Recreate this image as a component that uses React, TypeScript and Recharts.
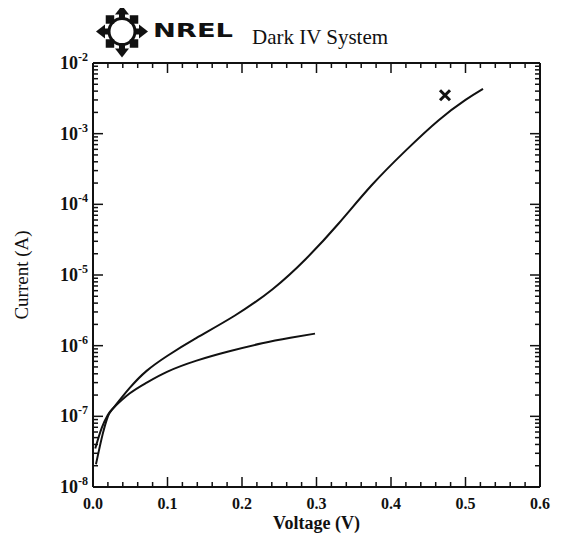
import { ComposedChart, Line, Scatter, XAxis, YAxis } from 'recharts';

// forward curve (goes up to ~4e-3 A)
const upperVolts = [0.004, 0.013, 0.02, 0.027, 0.049, 0.072, 0.1, 0.139, 0.19, 0.241, 0.286, 0.33, 0.374, 0.42, 0.464, 0.5, 0.5235];
const upperAmps = [2.1e-8, 5.6e-8, 1.0e-7, 1.3e-7, 2.5e-7, 4.4e-7, 7.2e-7, 1.29e-6, 2.65e-6, 6.3e-6, 1.7e-5, 5.4e-5, 1.86e-4, 5.8e-4, 1.55e-3, 3.0e-3, 4.3e-3];

// second sweep, stops at 0.3 V
const lowerVolts = [0.003, 0.012, 0.02, 0.027, 0.049, 0.072, 0.1, 0.139, 0.183, 0.227, 0.265, 0.298];
const lowerAmps = [3.5e-8, 7.0e-8, 1.05e-7, 1.3e-7, 2.1e-7, 3.0e-7, 4.3e-7, 6.15e-7, 8.35e-7, 1.08e-6, 1.29e-6, 1.48e-6];

const markVolts = [0.4725];
const markAmps = [3.5e-3];

const xMajor = [0, 0.1, 0.2, 0.3, 0.4, 0.5, 0.6];
const yMajor = [1e-8, 1e-7, 1e-6, 1e-5, 1e-4, 1e-3, 1e-2];
const yExponents = ['-8', '-7', '-6', '-5', '-4', '-3', '-2'];
const minorMultipliers = [2, 3, 4, 5, 6, 7, 8, 9];

const xTicks: number[] = [];
for (let i = 0; i <= 30; i++) xTicks.push(Math.round(i * 2) / 100);
const yTicks = yMajor.flatMap((d, i) =>
  i === yMajor.length - 1 ? [d] : [d, ...minorMultipliers.map((m) => m * d)]
);

const upperData = upperVolts.map((v, i) => ({ v, i: upperAmps[i] }));
const lowerData = lowerVolts.map((v, i) => ({ v, i: lowerAmps[i] }));
const markData = markVolts.map((v, i) => ({ v, i: markAmps[i] }));

const FONT = '"Liberation Serif", "Times New Roman", serif';
const INK = '#111';

const majorYIndex = (v: number) => yMajor.findIndex((d) => Math.abs(v / d - 1) < 1e-6);
const isMajorX = (v: number) => xMajor.some((m) => Math.abs(v - m) < 1e-6);

function LeftTick({ x, y, payload }: any) {
  const idx = majorYIndex(payload.value);
  const major = idx >= 0;
  return (
    <g>
      <line x1={x} y1={y} x2={x + (major ? 10 : 5)} y2={y} stroke={INK} strokeWidth={1.5} />
      {major && (
        <text x={x - 5} y={y + 6} textAnchor="end" fontFamily={FONT} fontWeight="bold" fontSize={18} fill={INK}>
          10<tspan dy={-8} fontSize={12}>{yExponents[idx]}</tspan>
        </text>
      )}
    </g>
  );
}

function RightTick({ x, y, payload }: any) {
  const major = majorYIndex(payload.value) >= 0;
  return <line x1={x} y1={y} x2={x - (major ? 10 : 5)} y2={y} stroke={INK} strokeWidth={1.5} />;
}

function BottomTick({ x, y, payload }: any) {
  const major = isMajorX(payload.value);
  return (
    <g>
      <line x1={x} y1={y} x2={x} y2={y - (major ? 10 : 5)} stroke={INK} strokeWidth={1.5} />
      {major && (
        <text x={x} y={y + 22} textAnchor="middle" fontFamily={FONT} fontWeight="bold" fontSize={16} fill={INK}>
          {payload.value.toFixed(1)}
        </text>
      )}
    </g>
  );
}

function TopTick({ x, y, payload }: any) {
  const major = isMajorX(payload.value);
  return <line x1={x} y1={y} x2={x} y2={y + (major ? 10 : 5)} stroke={INK} strokeWidth={1.5} />;
}

function XTitle({ viewBox }: any) {
  const { x = 85, y = 479, width = 447 } = viewBox || {};
  return (
    <text x={x + width / 2} y={y + 42} textAnchor="middle" fontFamily={FONT} fontWeight="bold" fontSize={18} fill={INK}>
      Voltage (V)
    </text>
  );
}

function YTitle({ viewBox }: any) {
  const { y = 55, height = 424 } = viewBox || {};
  const cy = y + height / 2;
  return (
    <text x={20} y={cy} transform={`rotate(-90, 20, ${cy})`} textAnchor="middle" fontFamily={FONT} fontSize={19} fill={INK}>
      Current (A)
    </text>
  );
}

function Cross({ cx, cy }: any) {
  const r = 5;
  return (
    <g stroke={INK} strokeWidth={3}>
      <line x1={cx - r} y1={cy - r} x2={cx + r} y2={cy + r} />
      <line x1={cx - r} y1={cy + r} x2={cx + r} y2={cy - r} />
    </g>
  );
}

function Logo() {
  const cx = 122;
  const cy = 31.5;
  const arrows = [0, 90, 180, 270];
  const diamonds = [45, 135, 225, 315];
  return (
    <svg width={564} height={70} style={{ position: 'absolute', left: -8, top: -8 }}>
      <circle cx={cx} cy={cy} r={13} fill="none" stroke={INK} strokeWidth={3} />
      {arrows.map((a) => (
        <g key={a} transform={`rotate(${a}, ${cx}, ${cy})`}>
          <polygon points={`${cx},${cy - 26} ${cx - 7},${cy - 17} ${cx + 7},${cy - 17}`} fill={INK} />
          <rect x={cx - 3} y={cy - 18} width={6} height={5} fill={INK} />
        </g>
      ))}
      {diamonds.map((a) => (
        <g key={a} transform={`rotate(${a}, ${cx}, ${cy})`}>
          <polygon points={`${cx},${cy - 23} ${cx - 6},${cy - 17} ${cx},${cy - 11} ${cx + 6},${cy - 17}`} fill={INK} />
        </g>
      ))}
      <text x={153} y={37} fontFamily='"DejaVu Sans", sans-serif' fontWeight="bold" fontSize={19} textLength={80} lengthAdjust="spacingAndGlyphs" fill={INK}>
        NREL
      </text>
      <text x={252} y={44} fontFamily={FONT} fontSize={21} fill={INK}>
        Dark IV System
      </text>
    </svg>
  );
}

export default function App() {
  return (
    <div style={{ position: 'relative', width: 548, height: 534, marginBottom: -8, background: '#fff' }}>
      <ComposedChart width={548} height={534} margin={{ top: 54, right: 15, bottom: 8, left: 0 }}>
        <XAxis
          xAxisId="b"
          dataKey="v"
          type="number"
          domain={[0, 0.6]}
          ticks={xTicks}
          interval={0}
          allowDataOverflow
          tickSize={0}
          tickMargin={0}
          tick={BottomTick}
          axisLine={{ stroke: INK, strokeWidth: 2 }}
          height={47}
          label={{ content: XTitle }}
        />
        <XAxis
          xAxisId="t"
          orientation="top"
          dataKey="v"
          type="number"
          domain={[0, 0.6]}
          ticks={xTicks}
          interval={0}
          allowDataOverflow
          tickSize={0}
          tickMargin={0}
          tick={TopTick}
          axisLine={{ stroke: INK, strokeWidth: 2 }}
          height={1}
        />
        <YAxis
          yAxisId="l"
          dataKey="i"
          type="number"
          scale="log"
          domain={[1e-8, 1e-2]}
          ticks={yTicks}
          interval={0}
          allowDataOverflow
          tickSize={0}
          tickMargin={0}
          tick={LeftTick}
          axisLine={{ stroke: INK, strokeWidth: 2 }}
          width={85}
          label={{ content: YTitle }}
        />
        <YAxis
          yAxisId="r"
          orientation="right"
          dataKey="i"
          type="number"
          scale="log"
          domain={[1e-8, 1e-2]}
          ticks={yTicks}
          interval={0}
          allowDataOverflow
          tickSize={0}
          tickMargin={0}
          tick={RightTick}
          axisLine={{ stroke: INK, strokeWidth: 2 }}
          width={1}
        />
        <Line
          xAxisId="b"
          yAxisId="l"
          data={upperData}
          dataKey="i"
          type="natural"
          stroke={INK}
          strokeWidth={2}
          dot={false}
          isAnimationActive={false}
        />
        <Line
          xAxisId="b"
          yAxisId="l"
          data={lowerData}
          dataKey="i"
          type="natural"
          stroke={INK}
          strokeWidth={2}
          dot={false}
          isAnimationActive={false}
        />
        <Scatter
          xAxisId="b"
          yAxisId="l"
          data={markData}
          dataKey="i"
          shape={Cross}
          isAnimationActive={false}
        />
      </ComposedChart>
      <Logo />
    </div>
  );
}
